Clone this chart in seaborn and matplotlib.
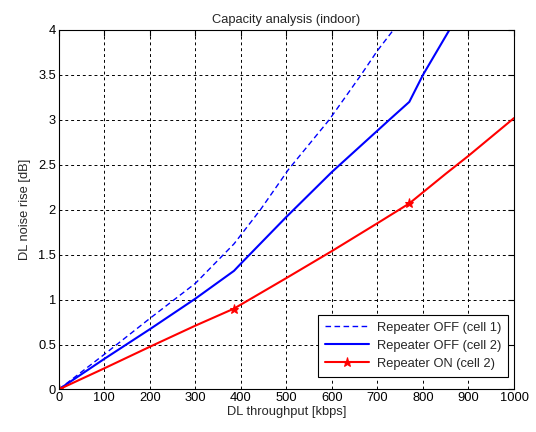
import matplotlib
matplotlib.use("Agg")
import matplotlib.pyplot as plt
import seaborn as sns
import pandas as pd

# ---- data ----
off1_x = [0, 100, 200, 300, 385, 443, 505, 594, 664, 700, 735, 770]
off1_y = [0, 0.39, 0.79, 1.18, 1.62, 2.0, 2.45, 3.0, 3.5, 3.77, 4.0, 4.25]

off2_x = [0, 100, 200, 300, 385, 400, 500, 600, 700, 726, 770, 800, 858, 900]
off2_y = [0, 0.34, 0.67, 1.01, 1.32, 1.40, 1.92, 2.42, 2.88, 3.0, 3.2, 3.5, 4.0, 4.38]

on2_x = [0, 100, 200, 300, 385, 500, 600, 700, 770, 850, 900, 950, 1000]
on2_y = [0, 0.235, 0.475, 0.71, 0.90, 1.24, 1.54, 1.85, 2.07, 2.40, 2.60, 2.81, 3.02]
on2_marks = [0, 4, 8]

labels = ["Repeater OFF (cell 1)", "Repeater OFF (cell 2)", "Repeater ON (cell 2)"]
xticks = [0, 100, 200, 300, 400, 500, 600, 700, 800, 900, 1000]
yticks = [0, 0.5, 1, 1.5, 2, 2.5, 3, 3.5, 4]
ytick_labels = ["0", "0.5", "1", "1.5", "2", "2.5", "3", "3.5", "4"]

FS = 9.3

sns.set_style("white")
plt.rcParams["font.family"] = ["Liberation Sans", "DejaVu Sans"]
plt.rcParams["font.size"] = FS

fig = plt.figure(figsize=(5.36, 4.32), dpi=100)
ax = fig.add_axes([0.1095, 0.0984, 0.8495, 0.8322])

d1 = pd.DataFrame({"x": off1_x, "y": off1_y})
d2 = pd.DataFrame({"x": off2_x, "y": off2_y})
d3 = pd.DataFrame({"x": on2_x, "y": on2_y})

sns.lineplot(data=d1, x="x", y="y", ax=ax, color="#0000ff", lw=1.0,
             linestyle=(0, (4, 2.5)), sort=False, label=labels[0])
sns.lineplot(data=d2, x="x", y="y", ax=ax, color="#0000ff", lw=1.5,
             sort=False, label=labels[1])
sns.lineplot(data=d3, x="x", y="y", ax=ax, color="#ff0000", lw=1.5,
             sort=False, marker="*", markersize=6.5, markevery=on2_marks,
             markeredgecolor="#ff0000", label=labels[2])

ax.set_xlim(0, 1000)
ax.set_ylim(0, 4)
ax.set_xticks(xticks)
ax.set_xticklabels([str(t) for t in xticks])
ax.set_yticks(yticks)
ax.set_yticklabels(ytick_labels)

ax.grid(True, color="black", linestyle=(0, (3, 3)), linewidth=0.7)
ax.set_axisbelow(True)
for s in ax.spines.values():
    s.set_color("black")
    s.set_linewidth(0.8)
    s.set_visible(True)
ax.tick_params(direction="in", length=4, width=0.8, top=True, right=True,
               labelsize=FS, colors="black", pad=2)

ax.set_title("Capacity analysis (indoor)", fontsize=FS, pad=5)
ax.set_xlabel("DL throughput [kbps]", fontsize=FS, labelpad=1)
ax.set_ylabel("DL noise rise [dB]", fontsize=FS, labelpad=5)

leg = ax.legend(loc="lower right", bbox_to_anchor=(0.9875, 0.0356),
                borderaxespad=0, fancybox=False, framealpha=1,
                edgecolor="black", fontsize=FS, handlelength=3.4,
                handletextpad=0.6, borderpad=0.55, labelspacing=0.45)
leg.get_frame().set_linewidth(0.8)

fig.savefig("out.png", dpi=100)
